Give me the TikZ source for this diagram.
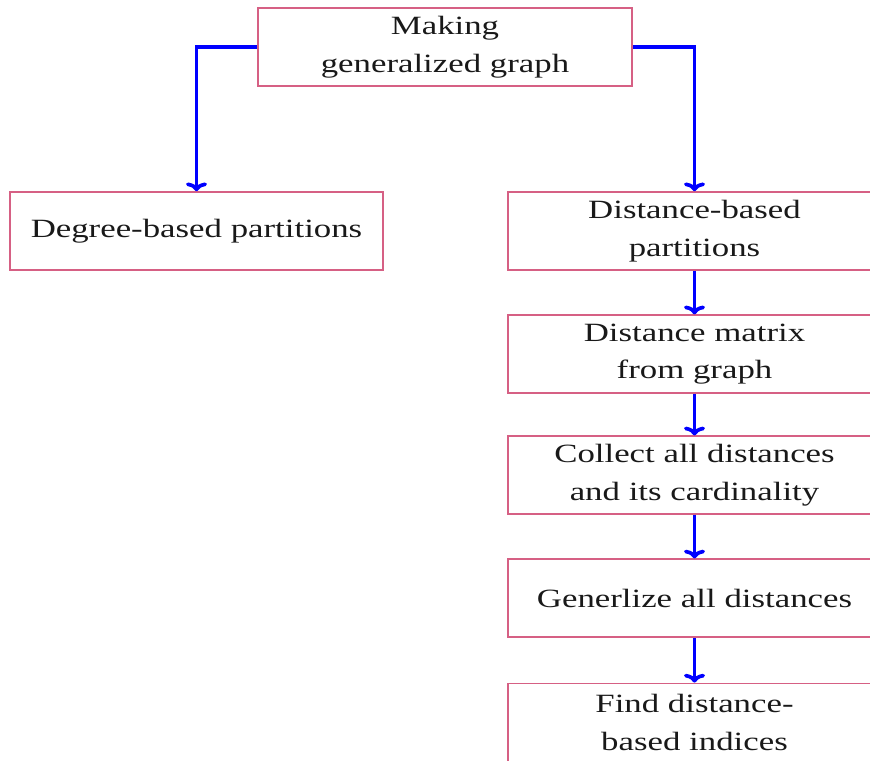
\documentclass[tikz,border=0pt]{standalone}
\usepackage{fontspec}
\setmainfont{Liberation Serif}[FakeStretch=1.32,WordSpace=1.8]
\usetikzlibrary{positioning,arrows.meta}

\definecolor{boxline}{RGB}{214,96,132}

\tikzset{
    flowbox/.style={draw=boxline, line width=0.9pt, minimum width=7.46cm,
        minimum height=1.56cm, text width=7.3cm, align=center, inner sep=0pt,
        font=\fontsize{15}{21.5}\selectfont, text=black!90},
    flowarrow/.style={draw=blue, line width=2.1pt, -{To[width=12pt,length=5pt]}}
}

\begin{document}
\begin{tikzpicture}
    \useasboundingbox (0,0) rectangle (17.4,-15.2);

    \node[flowbox, minimum width=7.48cm] (making) at (8.9,-0.94)  {Making\\ generalized graph};
    \node[flowbox] (degree)   at (3.93,-4.62)  {Degree-based partitions};
    \node[flowbox] (distance) at (13.89,-4.62) {Distance-based\\ partitions};
    \node[flowbox, below=0.87cm of distance] (matrix)  {Distance matrix\\ from graph};
    \node[flowbox, below=0.83cm of matrix]   (collect) {Collect all distances\\ and its cardinality};
    \node[flowbox, below=0.87cm of collect]  (general) {Generlize all distances};
    \node[flowbox, below=0.89cm of general]  (indices) {Find distance-\\ based indices};

    \draw[flowarrow] (making.west) -| (degree.north);
    \draw[flowarrow] (making.east) -| (distance.north);
    \draw[flowarrow] (distance) -- (matrix);
    \draw[flowarrow] (matrix)   -- (collect);
    \draw[flowarrow] (collect)  -- (general);
    \draw[flowarrow] (general)  -- (indices);
\end{tikzpicture}
\end{document}
